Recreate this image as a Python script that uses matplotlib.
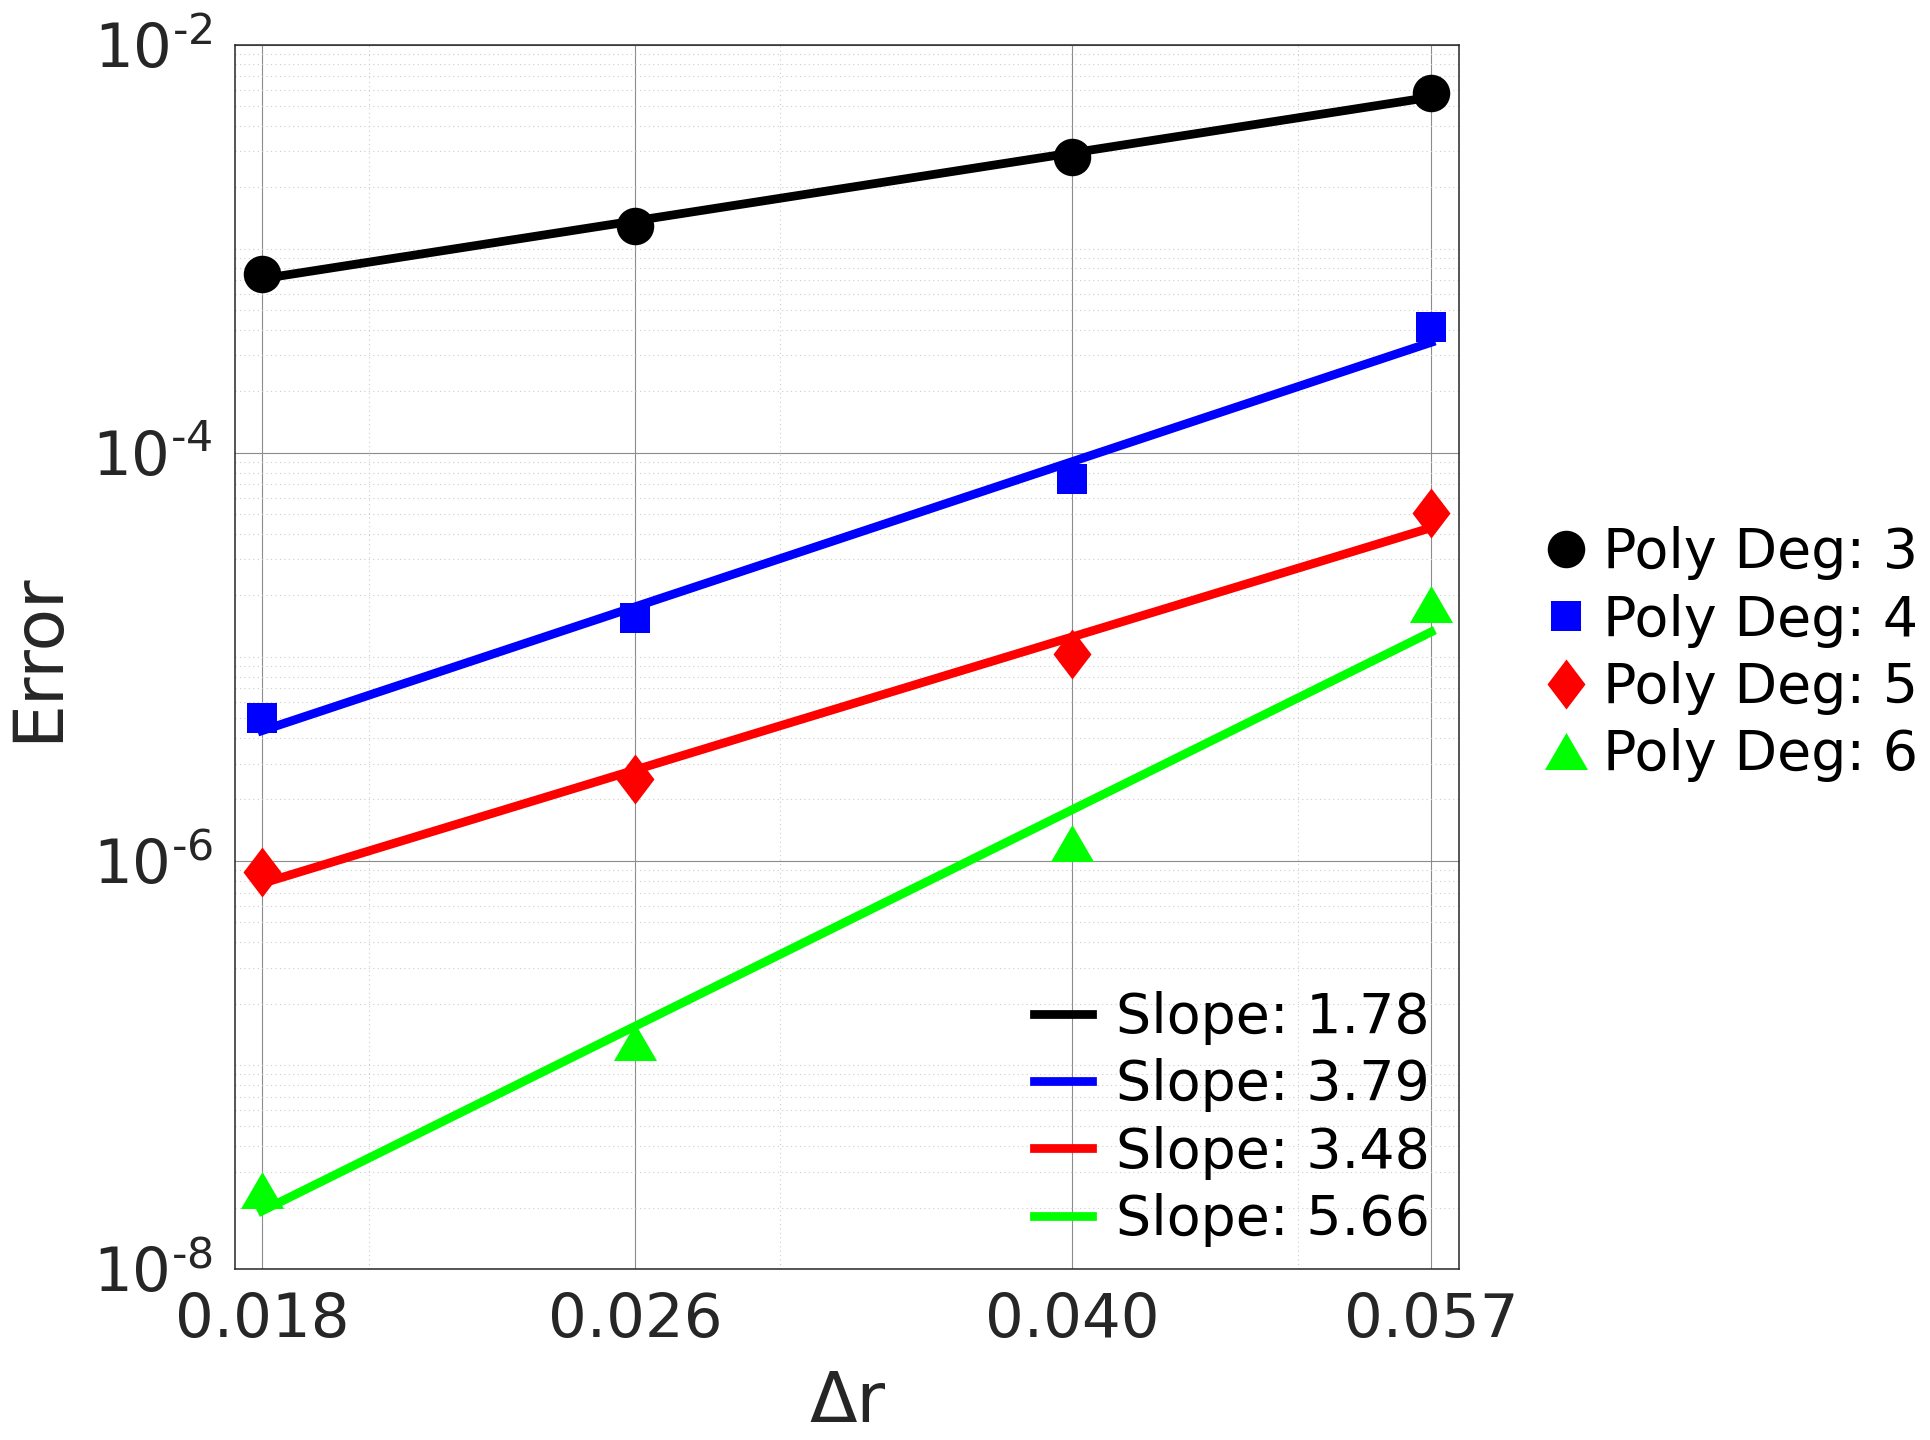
import numpy as np
import matplotlib
matplotlib.use('Agg')
import matplotlib.pyplot as plt
from matplotlib.ticker import FixedLocator, LogLocator, NullFormatter

# grid spacing values (x) and errors per polynomial degree
dr = [0.018, 0.026, 0.040, 0.057]
err_deg3 = [7.52e-4, 1.29e-3, 2.82e-3, 5.81e-3]
err_deg4 = [5.02e-6, 1.55e-5, 7.46e-5, 4.13e-4]
err_deg5 = [8.83e-7, 2.51e-6, 1.035e-5, 5.06e-5]
err_deg6 = [2.44e-8, 1.29e-7, 1.23e-6, 1.81e-5]
slopes = ['1.78', '3.79', '3.48', '5.66']
degrees = [3, 4, 5, 6]
y_ticks = [1e-8, 1e-6, 1e-4, 1e-2]
y_tick_labels = ['$10^{‐8}$', '$10^{‐6}$', '$10^{‐4}$', '$10^{‐2}$']

colors = ['#000000', '#0000ff', '#ff0000', '#00ff00']
diamond = [(0, 0.5), (0.38, 0), (0, -0.5), (-0.38, 0), (0, 0.5)]
triangle = [(0, 0.43), (0.5, -0.43), (-0.5, -0.43), (0, 0.43)]
markers = ['o', 's', diamond, triangle]
msizes = [27, 21.6, 36, 31]

plt.rcParams['font.family'] = ['DejaVu Sans']
plt.rcParams['mathtext.fontset'] = 'dejavusans'

fig = plt.figure(figsize=(19.3, 14.4), dpi=100)
ax = fig.add_axes([0.1218, 0.1187, 0.756 - 0.1218, 0.969 - 0.1187])

marker_handles = []
line_handles = []
for err, c, m, ms, deg, s in zip([err_deg3, err_deg4, err_deg5, err_deg6],
                                 colors, markers, msizes, degrees, slopes):
    lx = np.log10(dr)
    ly = np.log10(err)
    p = np.polyfit(lx, ly, 1)
    fit = 10 ** np.polyval(p, lx)
    ln, = ax.plot(dr, fit, '-', color=c, lw=6.3, label=f'Slope: {s}', zorder=3)
    mk, = ax.plot(dr, err, linestyle='none', marker=m, markersize=ms, color=c,
                  markeredgewidth=0, label=f'Poly Deg: {deg}', zorder=4)
    line_handles.append(ln)
    marker_handles.append(mk)

ax.set_xscale('log')
ax.set_yscale('log')
ax.set_xlim(0.01753, 0.0586)
ax.set_ylim(1e-8, 1e-2)

ax.xaxis.set_major_locator(FixedLocator(dr))
ax.set_xticklabels([f'{v:.3f}' for v in dr])
ax.xaxis.set_minor_formatter(NullFormatter())
ax.yaxis.set_major_locator(FixedLocator(y_ticks))
ax.set_yticklabels(y_tick_labels)
ax.yaxis.set_minor_locator(LogLocator(base=10, subs=np.arange(1, 10), numticks=100))
ax.yaxis.set_minor_formatter(NullFormatter())

ax.tick_params(which='both', length=0)
ax.tick_params(axis='x', labelsize=44, pad=16, colors='#262626')
ax.tick_params(axis='y', labelsize=44, pad=16, colors='#262626')

ax.grid(which='major', color='#8c8c8c', lw=0.8, ls='-')
ax.grid(which='minor', color='#cccccc', lw=0.8, ls=(0, (1, 3)))
ax.set_axisbelow(True)
for sp in ax.spines.values():
    sp.set_color('#262626')
    sp.set_linewidth(1.1)

ax.set_ylabel('Error', fontsize=50, color='#262626')
ax.yaxis.set_label_coords(-0.134, 0.5)
ax.set_xlabel('Δr', fontsize=50, color='#262626')
ax.xaxis.set_label_coords(0.5, -0.082)

leg1 = fig.legend(handles=marker_handles, loc='center left', bbox_to_anchor=(0.797, 0.5455),
                  frameon=False, fontsize=40, handlelength=1.0, handletextpad=0.16,
                  labelspacing=0.24, borderpad=0, borderaxespad=0)
leg2 = fig.legend(handles=line_handles, loc='center left', bbox_to_anchor=(0.5358, 0.2229),
                  frameon=False, fontsize=40, handlelength=1.05, handletextpad=0.43,
                  labelspacing=0.24, borderpad=0, borderaxespad=0)

fig.savefig('out.png', dpi=100)
